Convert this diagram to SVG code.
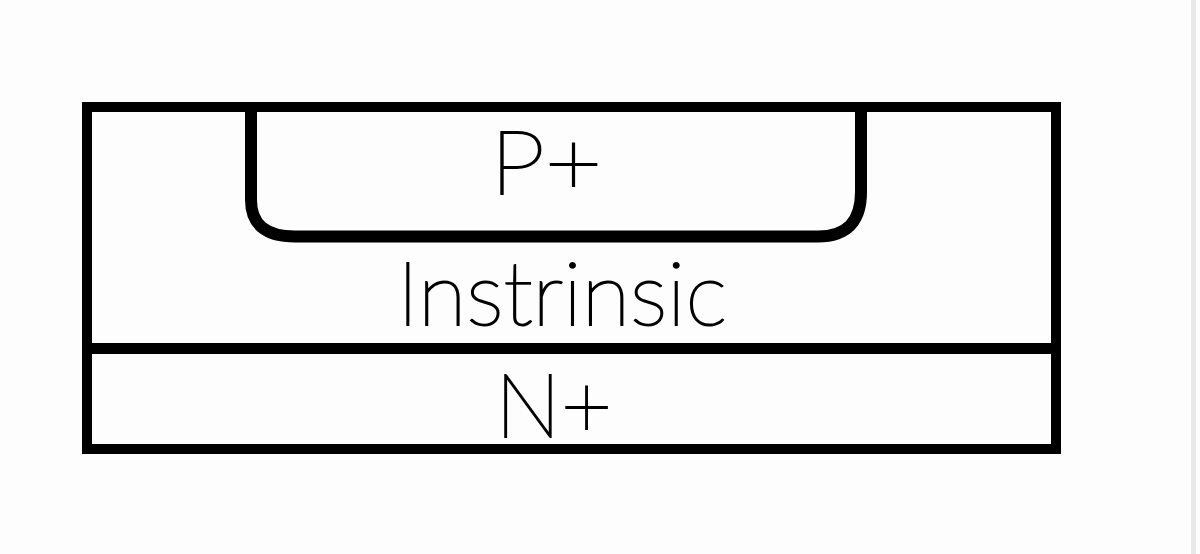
<svg xmlns="http://www.w3.org/2000/svg" width="1200" height="554" viewBox="0 0 1200 554">
  <style>
    .line { fill: none; stroke: #000; stroke-width: 10; }
    .lbl { font-family: Lato, "Liberation Sans", sans-serif; font-weight: 200; font-size: 88px; fill: #000; stroke: #000; stroke-width: 2; }
  </style>
  <rect x="0" y="0" width="1200" height="554" fill="#fdfdfd"/>
  <rect x="1191" y="0" width="5" height="554" fill="#e8e8e8"/>
  <g id="substrate">
    <rect class="line" x="87" y="107" width="969" height="342"/>
  </g>
  <g id="n-plus">
    <line class="line" x1="87" y1="348.5" x2="1056" y2="348.5" style="stroke-width:11"/>
    <text class="lbl" x="495" y="437" textLength="117" lengthAdjust="spacingAndGlyphs">N+</text>
  </g>
  <g id="p-plus">
    <path class="line" d="M 251 107 V 200 Q 251 236.5 295 236.5 H 818 Q 861 236.5 861 192 V 107" style="stroke-width:12"/>
    <text class="lbl" x="490" y="194" textLength="112" lengthAdjust="spacingAndGlyphs">P+</text>
  </g>
  <g id="intrinsic">
    <text class="lbl" x="397" y="325" textLength="330" lengthAdjust="spacingAndGlyphs">Instrinsic</text>
  </g>
</svg>
